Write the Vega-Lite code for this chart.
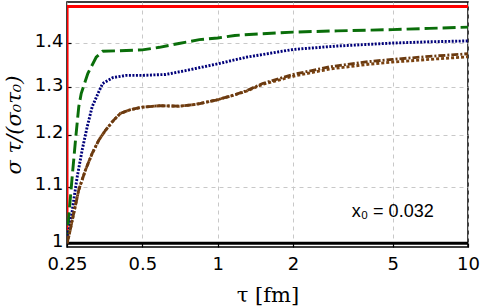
{
  "$schema": "https://vega.github.io/schema/vega-lite/v6.json",
  "width": 401,
  "height": 245,
  "autosize": "none",
  "padding": {"left": 67, "top": 2, "right": 14, "bottom": 61},
  "background": "white",
  "config": {
    "view": {"stroke": "black", "strokeWidth": 1.5},
    "axis": {
      "domain": false,
      "grid": true,
      "gridColor": "#c8c8c8",
      "gridDash": [4, 4],
      "gridWidth": 1,
      "tickColor": "black",
      "tickSize": -4,
      "tickWidth": 1.2,
      "labelFlush": false,
      "labelFont": "DejaVu Sans",
      "labelFontSize": 18,
      "labelColor": "black",
      "titleColor": "black",
      "titleFontWeight": "normal"
    }
  },
  "datasets": {
    "curves": [
      {"s": "black", "tau": 0.25, "v": 1.0},
      {"s": "black", "tau": 10, "v": 1.0},
      {"s": "red", "tau": 0.25, "v": 1.0},
      {"s": "red", "tau": 0.2502, "v": 1.4886},
      {"s": "red", "tau": 10, "v": 1.4886},
      {"s": "green", "tau": 0.25, "v": 1.0},
      {"s": "green", "tau": 0.2541, "v": 1.046},
      {"s": "green", "tau": 0.2622, "v": 1.118},
      {"s": "green", "tau": 0.2703, "v": 1.189},
      {"s": "green", "tau": 0.2786, "v": 1.258},
      {"s": "green", "tau": 0.2849, "v": 1.286},
      {"s": "green", "tau": 0.3027, "v": 1.33},
      {"s": "green", "tau": 0.327, "v": 1.367},
      {"s": "green", "tau": 0.347, "v": 1.381},
      {"s": "green", "tau": 0.4, "v": 1.382},
      {"s": "green", "tau": 0.5, "v": 1.384},
      {"s": "green", "tau": 0.585, "v": 1.39},
      {"s": "green", "tau": 0.7, "v": 1.399},
      {"s": "green", "tau": 0.845, "v": 1.408},
      {"s": "green", "tau": 1.0, "v": 1.412},
      {"s": "green", "tau": 1.17, "v": 1.418},
      {"s": "green", "tau": 1.5, "v": 1.422},
      {"s": "green", "tau": 2, "v": 1.426},
      {"s": "green", "tau": 3, "v": 1.429},
      {"s": "green", "tau": 5, "v": 1.432},
      {"s": "green", "tau": 7, "v": 1.435},
      {"s": "green", "tau": 10, "v": 1.438},
      {"s": "blue", "tau": 0.25, "v": 1.0},
      {"s": "blue", "tau": 0.2518, "v": 1.015},
      {"s": "blue", "tau": 0.2582, "v": 1.034},
      {"s": "blue", "tau": 0.2661, "v": 1.076},
      {"s": "blue", "tau": 0.2746, "v": 1.118},
      {"s": "blue", "tau": 0.2875, "v": 1.17},
      {"s": "blue", "tau": 0.301, "v": 1.216},
      {"s": "blue", "tau": 0.3152, "v": 1.258},
      {"s": "blue", "tau": 0.3349, "v": 1.29},
      {"s": "blue", "tau": 0.347, "v": 1.308},
      {"s": "blue", "tau": 0.381, "v": 1.321},
      {"s": "blue", "tau": 0.431, "v": 1.326},
      {"s": "blue", "tau": 0.5, "v": 1.326},
      {"s": "blue", "tau": 0.62, "v": 1.328},
      {"s": "blue", "tau": 0.75, "v": 1.337},
      {"s": "blue", "tau": 1.0, "v": 1.352},
      {"s": "blue", "tau": 1.3, "v": 1.367},
      {"s": "blue", "tau": 2, "v": 1.385},
      {"s": "blue", "tau": 3, "v": 1.393},
      {"s": "blue", "tau": 5, "v": 1.4},
      {"s": "blue", "tau": 7, "v": 1.403},
      {"s": "blue", "tau": 10, "v": 1.405},
      {"s": "brown1", "tau": 0.25, "v": 1.0},
      {"s": "brown1", "tau": 0.2541, "v": 1.011},
      {"s": "brown1", "tau": 0.2661, "v": 1.052},
      {"s": "brown1", "tau": 0.2786, "v": 1.094},
      {"s": "brown1", "tau": 0.2963, "v": 1.131},
      {"s": "brown1", "tau": 0.3152, "v": 1.163},
      {"s": "brown1", "tau": 0.3349, "v": 1.189},
      {"s": "brown1", "tau": 0.3562, "v": 1.209},
      {"s": "brown1", "tau": 0.3844, "v": 1.23},
      {"s": "brown1", "tau": 0.4088, "v": 1.244},
      {"s": "brown1", "tau": 0.444, "v": 1.251},
      {"s": "brown1", "tau": 0.5, "v": 1.257},
      {"s": "brown1", "tau": 0.585, "v": 1.26},
      {"s": "brown1", "tau": 0.703, "v": 1.259},
      {"s": "brown1", "tau": 0.819, "v": 1.263},
      {"s": "brown1", "tau": 0.985, "v": 1.272},
      {"s": "brown1", "tau": 1.148, "v": 1.282},
      {"s": "brown1", "tau": 1.3, "v": 1.291},
      {"s": "brown1", "tau": 1.51, "v": 1.306},
      {"s": "brown1", "tau": 2, "v": 1.324},
      {"s": "brown1", "tau": 2.79, "v": 1.34},
      {"s": "brown1", "tau": 4, "v": 1.351},
      {"s": "brown1", "tau": 5, "v": 1.356},
      {"s": "brown1", "tau": 7, "v": 1.362},
      {"s": "brown1", "tau": 10, "v": 1.368},
      {"s": "brown2", "tau": 0.25, "v": 1.0},
      {"s": "brown2", "tau": 0.2541, "v": 1.011},
      {"s": "brown2", "tau": 0.2661, "v": 1.052},
      {"s": "brown2", "tau": 0.2786, "v": 1.094},
      {"s": "brown2", "tau": 0.2963, "v": 1.131},
      {"s": "brown2", "tau": 0.3152, "v": 1.163},
      {"s": "brown2", "tau": 0.3349, "v": 1.189},
      {"s": "brown2", "tau": 0.3562, "v": 1.209},
      {"s": "brown2", "tau": 0.3844, "v": 1.23},
      {"s": "brown2", "tau": 0.4088, "v": 1.244},
      {"s": "brown2", "tau": 0.444, "v": 1.251},
      {"s": "brown2", "tau": 0.5, "v": 1.257},
      {"s": "brown2", "tau": 0.585, "v": 1.26},
      {"s": "brown2", "tau": 0.703, "v": 1.259},
      {"s": "brown2", "tau": 0.819, "v": 1.263},
      {"s": "brown2", "tau": 0.985, "v": 1.272},
      {"s": "brown2", "tau": 1.148, "v": 1.282},
      {"s": "brown2", "tau": 1.3, "v": 1.292},
      {"s": "brown2", "tau": 1.51, "v": 1.308},
      {"s": "brown2", "tau": 2, "v": 1.328},
      {"s": "brown2", "tau": 2.79, "v": 1.345},
      {"s": "brown2", "tau": 4, "v": 1.357},
      {"s": "brown2", "tau": 5, "v": 1.362},
      {"s": "brown2", "tau": 7, "v": 1.369},
      {"s": "brown2", "tau": 10, "v": 1.375}
    ],
    "notes": [
      {"tau": 5.0, "v": 1.054, "label": "x₀ = 0.032"}
    ]
  },
  "layer": [
    {
      "data": {"name": "curves"},
      "mark": {"type": "line", "clip": true, "strokeCap": "butt"},
      "encoding": {
        "x": {
          "field": "tau", "type": "quantitative",
          "scale": {"type": "log", "domain": [0.25, 10], "nice": false},
          "axis": {"values": [0.25, 0.5, 1, 2, 5, 10], "format": "~g", "title": "τ [fm]",
                   "titleFont": "DejaVu Serif", "titleFontSize": 21, "titlePadding": 11, "labelPadding": 12}
        },
        "y": {
          "field": "v", "type": "quantitative",
          "scale": {"type": "log", "domain": [0.9937, 1.5], "nice": false, "zero": false},
          "axis": {"values": [1, 1.1, 1.2, 1.3, 1.4], "format": ".2~f", "title": "σ τ/(σ₀τ₀)",
                   "titleFont": "DejaVu Serif", "titleFontStyle": "italic", "titleFontSize": 21, "titlePadding": 10, "labelPadding": 8, "labelOffset": -2}
        },
        "detail": {"field": "s"},
        "color": {
          "field": "s", "type": "nominal", "legend": null,
          "scale": {"domain": ["black", "red", "green", "blue", "brown1", "brown2"],
                    "range": ["#000000", "#ff0000", "#0a6e0a", "#00007a", "#7a4210", "#6b3a10"]}
        },
        "strokeDash": {
          "field": "s", "type": "nominal", "legend": null,
          "scale": {"domain": ["black", "red", "green", "blue", "brown1", "brown2"],
                    "range": [[1, 0], [1, 0], [13, 5], [2, 1.5], [3, 2], [7, 2, 2, 2]]}
        },
        "strokeWidth": {
          "field": "s", "type": "nominal", "legend": null,
          "scale": {"domain": ["black", "red", "green", "blue", "brown1", "brown2"],
                    "range": [3, 2.8, 4, 3.6, 4, 2.2]}
        }
      }
    },
    {
      "data": {"name": "notes"},
      "mark": {"type": "text", "font": "Liberation Sans", "fontSize": 18, "align": "center", "baseline": "middle", "color": "black"},
      "encoding": {
        "x": {"field": "tau", "type": "quantitative"},
        "y": {"field": "v", "type": "quantitative"},
        "text": {"field": "label"}
      }
    }
  ]
}
